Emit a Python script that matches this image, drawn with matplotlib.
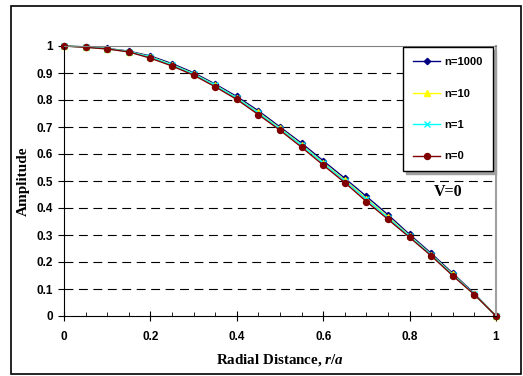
import matplotlib
matplotlib.use("Agg")
import matplotlib.pyplot as plt
from matplotlib.patches import Rectangle
from matplotlib.ticker import MultipleLocator

r = [0.0, 0.05, 0.1, 0.15, 0.2, 0.25, 0.3, 0.35, 0.4, 0.45, 0.5,
     0.55, 0.6, 0.65, 0.7, 0.75, 0.8, 0.85, 0.9, 0.95, 1.0]
n1000 = [1.0, 0.997, 0.991, 0.981, 0.963, 0.935, 0.901, 0.859, 0.813, 0.760, 0.700,
         0.640, 0.575, 0.510, 0.443, 0.375, 0.302, 0.232, 0.158, 0.083, 0.0]
n10 = [1.0, 0.996, 0.990, 0.979, 0.960, 0.931, 0.897, 0.855, 0.808, 0.754, 0.695,
       0.634, 0.568, 0.503, 0.435, 0.367, 0.297, 0.227, 0.154, 0.080, 0.0]
n1 = [1.0, 0.996, 0.990, 0.979, 0.959, 0.930, 0.896, 0.854, 0.807, 0.752, 0.693,
      0.632, 0.566, 0.500, 0.432, 0.364, 0.295, 0.226, 0.152, 0.080, 0.0]
n0 = [1.0, 0.995, 0.989, 0.978, 0.955, 0.926, 0.892, 0.849, 0.802, 0.746, 0.688,
      0.625, 0.559, 0.494, 0.424, 0.358, 0.291, 0.223, 0.149, 0.079, 0.0]

xticks = [0, 0.2, 0.4, 0.6, 0.8, 1.0]
xticklabels = ['0', '0.2', '0.4', '0.6', '0.8', '1']
yticks = [0, 0.1, 0.2, 0.3, 0.4, 0.5, 0.6, 0.7, 0.8, 0.9, 1.0]
yticklabels = ['0', '0.1', '0.2', '0.3', '0.4', '0.5', '0.6', '0.7', '0.8', '0.9', '1']

plt.rcParams['mathtext.fontset'] = 'custom'
plt.rcParams['mathtext.it'] = 'Liberation Serif:bold:italic'
plt.rcParams['mathtext.rm'] = 'Liberation Serif:bold'

fig = plt.figure(figsize=(5.23, 3.76), dpi=100)
# outer chart border
fig.patches.append(Rectangle((11/523, 2/376), 510/523, 368/376, transform=fig.transFigure,
                             fill=False, edgecolor='black', linewidth=1.2))
ax = fig.add_axes([64/523, 60/376, 432/523, 270/376])

ax.plot(r, n1000, color='#000080', marker='D', markersize=3.2, lw=1, label='n=1000', clip_on=False)
ax.plot(r, n10, color='#FFFF00', marker='^', markersize=4, lw=1, label='n=10', clip_on=False)
ax.plot(r, n1, color='#00FFFF', marker='x', markersize=4, mew=1, lw=1, label='n=1', clip_on=False)
ax.plot(r, n0, color='#800000', marker='o', markersize=4.3, lw=1, label='n=0', clip_on=False)

ax.set_xlim(0, 1)
ax.set_ylim(0, 1)
ax.set_xticks(xticks)
ax.set_xticklabels(xticklabels)
ax.xaxis.set_minor_locator(MultipleLocator(0.05))
ax.set_yticks(yticks)
ax.set_yticklabels(yticklabels)
for lab in ax.get_xticklabels() + ax.get_yticklabels():
    lab.set_fontfamily('Liberation Sans')
    lab.set_fontweight('bold')
    lab.set_fontsize(8.5)
ax.tick_params(axis='x', which='major', direction='inout', length=7, pad=7)
ax.tick_params(axis='x', which='minor', direction='in', length=3)
ax.tick_params(axis='y', direction='out', length=4, pad=4)

for y in yticks[1:-1]:
    ax.axhline(y, color='black', lw=0.8, dashes=(8, 5), zorder=0)
ax.spines['top'].set_color('#808080')
ax.spines['right'].set_color('#A0A0A0')
ax.spines['right'].set_linewidth(1.5)

ax.set_xlabel('Radial Distance, $r/a$', fontfamily='Liberation Serif', fontweight='bold',
              fontsize=10.8, labelpad=7)
ax.set_ylabel('Amplitude', fontfamily='Liberation Serif', fontweight='bold', fontsize=11, labelpad=5)

ax.text(0.89, 0.459, 'V=0', fontfamily='Liberation Serif', fontweight='bold',
        fontsize=11.5, ha='center', va='center')

leg = ax.legend(loc='upper right', bbox_to_anchor=(0.993, 0.996), borderaxespad=0, frameon=True,
                fancybox=False, shadow={'color': '#A0A0A0', 'alpha': 1}, edgecolor='black',
                labelspacing=1.93, handlelength=2.4, handletextpad=0.4, borderpad=0.9,
                prop={'family': 'Liberation Sans', 'weight': 'bold', 'size': 8})
leg.get_frame().set_linewidth(1)

fig.savefig('out.png', dpi=100)
